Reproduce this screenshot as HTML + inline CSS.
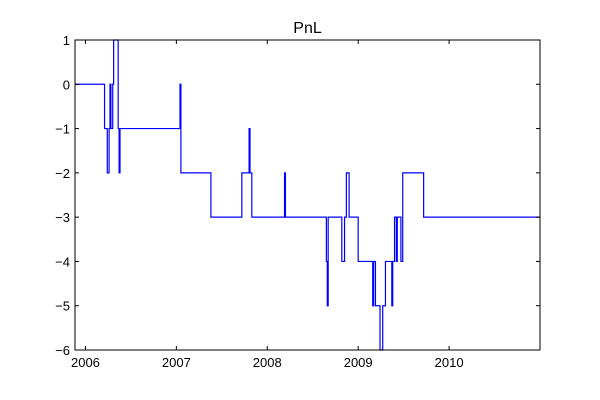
<!DOCTYPE html>
<html><head><meta charset="utf-8"><style>
body{margin:0;background:#fff;}
svg{display:block;font-family:"Liberation Sans",sans-serif;}
</style></head><body>
<svg id="chart" width="600" height="400"></svg>
<script>
const dates=[2005.89,2006.21,2006.24,2006.26,2006.27,2006.28,2006.30,2006.31,2006.36,2006.37,2006.38,2007.04,2007.05,2007.38,2007.72,2007.80,2007.81,2007.83,2008.19,2008.20,2008.65,2008.66,2008.67,2008.82,2008.85,2008.87,2008.90,2009.00,2009.16,2009.17,2009.19,2009.24,2009.27,2009.30,2009.37,2009.38,2009.40,2009.42,2009.43,2009.47,2009.49,2009.72];
const pnl=[0,-1,-2,-1,0,-1,0,1,-1,-2,-1,0,-2,-3,-2,-1,-2,-3,-2,-3,-4,-5,-3,-4,-3,-2,-3,-4,-5,-4,-5,-6,-5,-4,-5,-4,-3,-4,-3,-4,-2,-3];
const xTicks=[2006,2007,2008,2009,2010];
const xTickLabels=["2006","2007","2008","2009","2010"];
const yTicks=[1,0,-1,-2,-3,-4,-5,-6];
const xMin=2005.885,xMax=2011.0,yMin=-6,yMax=1;
const L=75,R=540,T=40,B=350;
const sx=v=>L+(v-xMin)/(xMax-xMin)*(R-L);
const sy=v=>T+(yMax-v)/(yMax-yMin)*(B-T);
const svg=document.getElementById('chart');
const NS='http://www.w3.org/2000/svg';
function mk(tag,attrs){const e=document.createElementNS(NS,tag);for(const k in attrs)e.setAttribute(k,attrs[k]);svg.appendChild(e);return e;}
let d='';
for(let i=0;i<dates.length;i++){
  const x=sx(dates[i]),y=sy(pnl[i]);
  if(i===0)d+='M'+x+','+y;else d+='H'+x+'V'+y;
}
d+='H'+sx(xMax);
const line=mk('path',{d:d,fill:'none',stroke:'#0000ff','stroke-width':1.2,'clip-path':'url(#clip)'});


const defs=document.createElementNS(NS,'defs');defs.innerHTML='<clipPath id="clip"><rect x="'+L+'" y="'+(T-1)+'" width="'+(R-L)+'" height="'+(B-T+2)+'"/></clipPath>';svg.insertBefore(defs,svg.firstChild);
const frame=mk('rect',{x:L,y:T,width:R-L,height:B-T,fill:'none',stroke:'#000','stroke-width':1});


xTicks.forEach((t,i)=>{
  const x=sx(t);
  mk('line',{x1:x,x2:x,y1:B,y2:B-4,stroke:'#000'});
  mk('line',{x1:x,x2:x,y1:T,y2:T+4,stroke:'#000'});
  const tx=mk('text',{x:x,y:B+17,'text-anchor':'middle','font-size':13});
  tx.textContent=xTickLabels[i];
  
  
});
yTicks.forEach(t=>{
  const y=sy(t);
  mk('line',{x1:L,x2:L+4,y1:y,y2:y,stroke:'#000'});
  mk('line',{x1:R,x2:R-4,y1:y,y2:y,stroke:'#000'});
  const tx=mk('text',{x:L-5,y:y+5,'text-anchor':'end','font-size':13});
  tx.textContent=String(t).replace('-','\u2212');
  
  
});
const title=mk('text',{x:(L+R)/2,y:33,'text-anchor':'middle','font-size':16});
title.textContent='PnL';


</script>
</body></html>
